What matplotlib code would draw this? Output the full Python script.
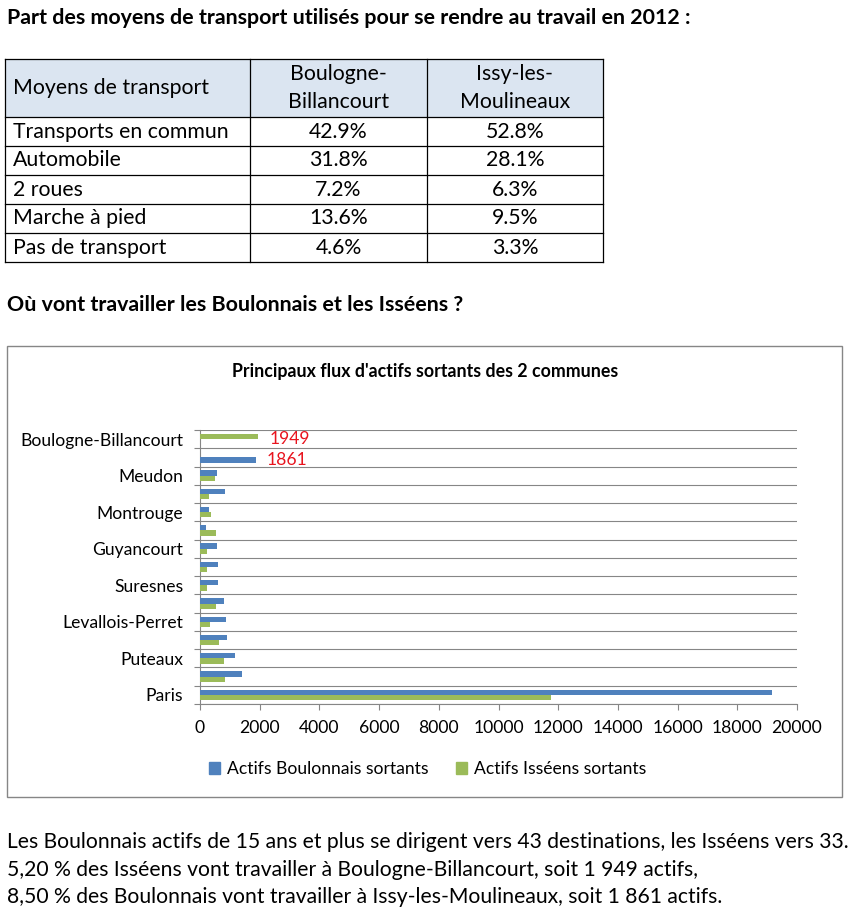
import numpy as np
import matplotlib.pyplot as plt
from matplotlib.patches import Rectangle, Patch

plt.rcParams['font.family'] = ['Lato', 'DejaVu Sans']

# --- table data ---
modes = ['Transports en commun', 'Automobile', '2 roues', 'Marche à pied', 'Pas de transport']
boulogne_pct = ['42.9%', '31.8%', '7.2%', '13.6%', '4.6%']
issy_pct = ['52.8%', '28.1%', '6.3%', '9.5%', '3.3%']
col_heads = [['Moyens de transport'], ['Boulogne-', 'Billancourt'], ['Issy-les-', 'Moulineaux']]

# --- chart data, bottom to top like excel draws it (unlabelled rows left blank) ---
destinations = ['Paris', '', 'Puteaux', '', 'Levallois-Perret', '', 'Suresnes', '',
                'Guyancourt', '', 'Montrouge', '', 'Meudon', 'Issy-les-Moulineaux',
                'Boulogne-Billancourt']
boulonnais = [19150, 1420, 1170, 920, 880, 790, 600, 590, 560, 200, 300, 850, 570, 1861, 0]
isseens = [11770, 850, 800, 630, 320, 540, 250, 250, 250, 530, 380, 300, 500, 0, 1949]
xticks = list(range(0, 20001, 2000))

title1 = 'Part des moyens de transport utilisés pour se rendre au travail en 2012 :'
title2 = 'Où vont travailler les Boulonnais et les Isséens ?'
chart_title = "Principaux flux d'actifs sortants des 2 communes"
legend_labels = ['Actifs Boulonnais sortants', 'Actifs Isséens sortants']
notes = ['Les Boulonnais actifs de 15 ans et plus se dirigent vers 43 destinations, les Isséens vers 33.',
         '5,20 % des Isséens vont travailler à Boulogne-Billancourt, soit 1 949 actifs,',
         '8,50 % des Boulonnais vont travailler à Issy-les-Moulineaux, soit 1 861 actifs.']

blue = '#4f81bd'
green = '#9bbb59'
grey = '#868686'

W, H = 851, 913
fig = plt.figure(figsize=(W / 100, H / 100), dpi=100)
# background axes in pixel coords for the text, the table and the chart frame
bg = fig.add_axes([0, 0, 1, 1])
bg.set_xlim(0, W)
bg.set_ylim(H, 0)
bg.axis('off')
renderer = fig.canvas.get_renderer()


def fit_size(s, width, weight='normal'):
    # font size that gives the text the same width as in the picture
    t = bg.text(0, 0, s, fontsize=10, fontweight=weight)
    w = t.get_window_extent(renderer).width
    t.remove()
    return 10 * width / w


fs_head = fit_size(title1, 686, 'bold')
fs_body = fit_size(notes[0], 838)
fs_cell = fit_size(modes[0], 216)
fs_chart = fit_size('Boulogne-Billancourt', 163)
fs_ctitle = fit_size(chart_title, 385, 'bold')

bg.text(7, 18, title1, fontsize=fs_head, fontweight='bold', va='center')
bg.text(7, 305, title2, fontsize=fs_head, fontweight='bold', va='center')

# table
col_x = [5, 250, 427, 603]
row_y = [59, 117, 146, 175, 204, 233, 262]
bg.add_patch(Rectangle((col_x[0], row_y[0]), col_x[-1] - col_x[0], row_y[1] - row_y[0],
                       facecolor='#dbe5f1', edgecolor='none'))
for x in col_x:
    bg.plot([x, x], [row_y[0], row_y[-1]], color='black', lw=0.9)
for yy in row_y:
    bg.plot([col_x[0], col_x[-1]], [yy, yy], color='black', lw=0.9)

hy = (row_y[0] + row_y[1]) / 2
for j, lines in enumerate(col_heads):
    for k, line in enumerate(lines):
        ty = hy + (k - (len(lines) - 1) / 2) * 27
        if j == 0:
            bg.text(13, ty, line, fontsize=fs_cell, va='center')
        else:
            bg.text((col_x[j] + col_x[j + 1]) / 2, ty, line, fontsize=fs_cell, va='center', ha='center')
for i in range(len(modes)):
    ty = (row_y[i + 1] + row_y[i + 2]) / 2
    bg.text(13, ty, modes[i], fontsize=fs_cell, va='center')
    bg.text((col_x[1] + col_x[2]) / 2, ty, boulogne_pct[i], fontsize=fs_cell, va='center', ha='center')
    bg.text((col_x[2] + col_x[3]) / 2, ty, issy_pct[i], fontsize=fs_cell, va='center', ha='center')

# chart frame + title
bg.add_patch(Rectangle((7, 346), 835, 451, facecolor='none', edgecolor=grey, lw=1))
bg.text(425, 372, chart_title, fontsize=fs_ctitle, fontweight='bold', va='center', ha='center')

for i, line in enumerate(notes):
    bg.text(7, 842 + i * 27.5, line, fontsize=fs_body, va='center')

# bar chart
ax = fig.add_axes([200 / W, (H - 704) / H, 597 / W, 274 / H])
ax.patch.set_alpha(0)
y = np.arange(len(destinations))
b = np.array(boulonnais)
g = np.array(isseens)
h = 0.29
# when a row only has one series the bar sits in the other slot
off_b = np.where(g == 0, -h / 2, h / 2)
off_g = np.where(b == 0, h / 2, -h / 2)
ax.barh(y + off_b, b, height=h, color=blue, zorder=3)
ax.barh(y + off_g, g, height=h, color=green, zorder=3)

ax.set_xlim(0, 20000)
ax.set_ylim(-0.5, len(destinations) - 0.5)
ax.set_xticks(xticks)
ax.set_yticks(np.arange(-0.5, len(destinations)))
ax.set_yticks(y[::2], labels=destinations[::2], minor=True)
ax.tick_params(axis='y', which='major', length=4.3, color=grey, labelleft=False)
ax.tick_params(axis='y', which='minor', length=0, pad=12, labelsize=fs_chart)
ax.tick_params(axis='x', length=4.3, color=grey, pad=7, labelsize=fs_chart)
ax.grid(axis='y', which='major', color=grey, lw=0.8, zorder=0)
for side in ['top', 'right']:
    ax.spines[side].set_visible(False)
for side in ['left', 'bottom']:
    ax.spines[side].set_color(grey)
    ax.spines[side].set_linewidth(0.8)

# red value labels
for i in range(len(destinations)):
    if b[i] == 0:
        ax.annotate(str(g[i]), (g[i], y[i] + off_g[i]), xytext=(8, -2), textcoords='offset points',
                    color='#e8141e', fontsize=fs_chart, va='center')
    if g[i] == 0:
        ax.annotate(str(b[i]), (b[i], y[i] + off_b[i]), xytext=(8, 0), textcoords='offset points',
                    color='#e8141e', fontsize=fs_chart, va='center')

handles = [Patch(color=blue), Patch(color=green)]
ax.legend(handles, legend_labels, loc='center left', bbox_to_anchor=(209 / W, (H - 769) / H),
          bbox_transform=fig.transFigure, ncol=2, frameon=False, fontsize=fs_chart,
          handlelength=0.65, handleheight=0.65, handletextpad=0.4, columnspacing=1.55,
          borderpad=0, borderaxespad=0)

fig.savefig('out.png', dpi=100)
